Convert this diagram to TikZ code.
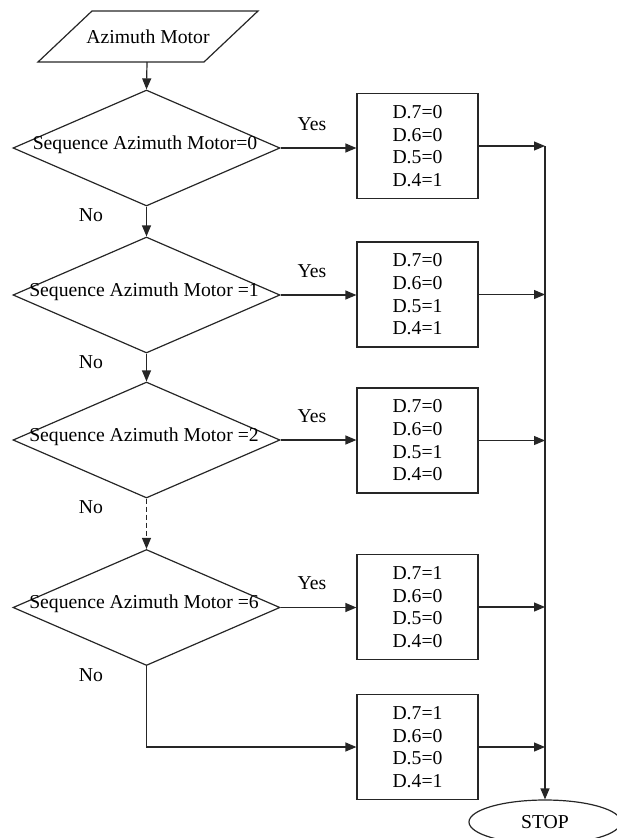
\documentclass[tikz,border=0pt]{standalone}
\usepackage{fontspec}
\setmainfont{Liberation Serif}
\usetikzlibrary{shapes.geometric,arrows.meta}

\begin{document}
\begin{tikzpicture}[x=1pt,y=-1pt,
  every node/.style={font=\fontsize{19.7}{22.7}\selectfont, text=black},
  line/.style={draw=black!85, line width=1.2pt},
  flow/.style={line, -{Triangle[length=11pt,width=9pt]}},
  decision/.style={diamond, draw=black!85, line width=1.2pt, inner sep=0pt,
    minimum width=267pt, minimum height=116pt},
  setbox/.style={rectangle, draw=black!85, line width=1.2pt, align=center,
    inner sep=0pt, minimum width=121pt, minimum height=105pt},
  endnode/.style={ellipse, draw=black!85, line width=1.2pt, inner sep=0pt,
    minimum width=152pt, minimum height=44pt},
  tag/.style={inner sep=0pt}]

\useasboundingbox (0,0) rectangle (616,838);

% input block (parallelogram)
\draw[line] (92,11) -- (258,11) -- (204,62) -- (38,62) -- cycle;
\node[tag] (az) at (148,37) {Azimuth Motor};
\coordinate (azb) at (147,62);

% decisions
\node[decision] (d1) at (146.5,148) {};
\node[decision] (d2) at (146.5,295) {};
\node[decision] (d3) at (146.5,440) {};
\node[decision] (d4) at (146.5,607.5) {};
\node[tag] (t1) at (145,145) {Sequence Azimuth Motor=0};
\node[tag] (t2) at (144,292) {Sequence Azimuth Motor =1};
\node[tag] (t3) at (144,437) {Sequence Azimuth Motor =2};
\node[tag] (t4) at (144,604) {Sequence Azimuth Motor =6};

% output settings
\node[setbox] (b1) at (417.5,146) {D.7=0\\D.6=0\\D.5=0\\D.4=1};
\node[setbox] (b2) at (417.5,294.5) {D.7=0\\D.6=0\\D.5=1\\D.4=1};
\node[setbox] (b3) at (417.5,440.5) {D.7=0\\D.6=0\\D.5=1\\D.4=0};
\node[setbox] (b4) at (417.5,607) {D.7=1\\D.6=0\\D.5=0\\D.4=0};
\node[setbox] (b5) at (417.5,747) {D.7=1\\D.6=0\\D.5=0\\D.4=1};

% end
\node[endnode] (stop) at (545,822) {STOP};

% yes / no labels
\node[tag] (y1) at (312,124) {Yes};
\node[tag] (y2) at (312,271) {Yes};
\node[tag] (y3) at (312,416) {Yes};
\node[tag] (y4) at (312,583) {Yes};
\node[tag] (n1) at (91,215) {No};
\node[tag] (n2) at (91,362) {No};
\node[tag] (n3) at (91,507) {No};
\node[tag] (n4) at (91,675) {No};

% vertical flow
\draw[flow] (azb) -- (d1.north);
\draw[flow] (d1.south) -- (d2.north);
\draw[flow] (d2.south) -- (d3.north);
\draw[flow, dashed, dash pattern=on 5pt off 3pt] (d3.south) -- (d4.north);
\draw[flow] (d4.south) |- (b5.west);

% yes branches
\draw[flow] (d1.east) -- (d1.east -| b1.west);
\draw[flow] (d2.east) -- (d2.east -| b2.west);
\draw[flow] (d3.east) -- (d3.east -| b3.west);
\draw[flow] (d4.east) -- (d4.east -| b4.west);

% collector line to STOP
\coordinate (top) at (b1.east -| stop.north);
\draw[flow] (top) -- (stop.north);
\draw[flow] (b1.east) -- (b1.east -| stop.north);
\draw[flow] (b2.east) -- (b2.east -| stop.north);
\draw[flow] (b3.east) -- (b3.east -| stop.north);
\draw[flow] (b4.east) -- (b4.east -| stop.north);
\draw[flow] (b5.east) -- (b5.east -| stop.north);

\end{tikzpicture}
\end{document}
